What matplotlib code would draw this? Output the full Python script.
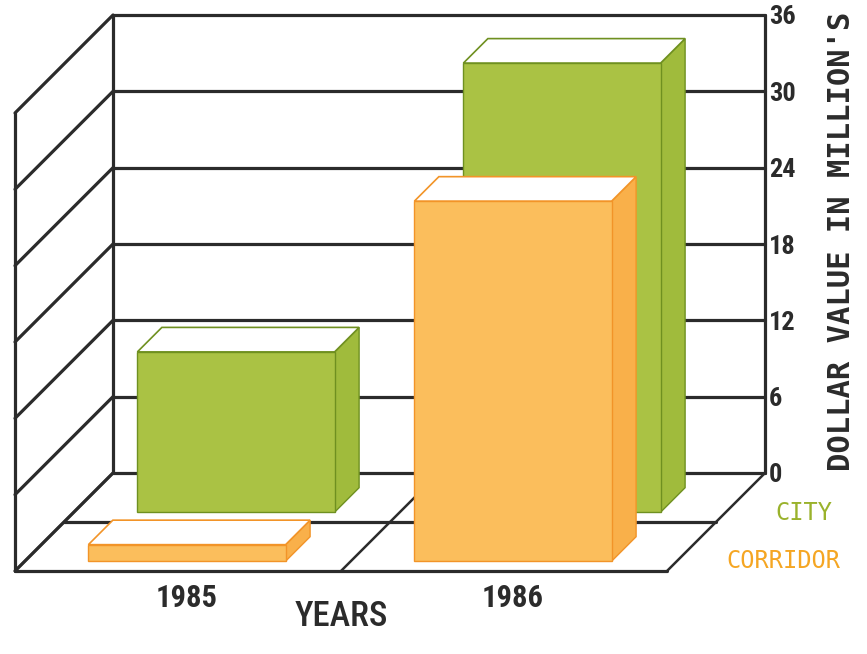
import matplotlib
matplotlib.use('Agg')
import matplotlib.pyplot as plt
from matplotlib.patches import Polygon
from matplotlib import font_manager
from matplotlib.transforms import offset_copy

# ---------------- data ----------------
years = ['1985', '1986']
series = ['CITY', 'CORRIDOR']
city_values = [12.6, 35.3]
corridor_values = [1.3, 28.3]
y_ticks = [0, 6, 12, 18, 24, 30, 36]
y_label = "DOLLAR VALUE IN MILLION'S"
x_label = 'YEARS'

# ---------------- fonts ----------------
avail = {f.name for f in font_manager.fontManager.ttflist}
COND = next((n for n in ['Roboto Condensed', 'Liberation Sans Narrow',
                         'Open Sans Condensed'] if n in avail), None)
if COND is None:
    cond_kw = dict(family='DejaVu Sans', fontstretch='condensed')
else:
    cond_kw = dict(family=COND)
MONO = 'DejaVu Sans Mono'

# ---------------- layout ----------------
FIG_W, FIG_H, DPI = 867, 654, 100
BX0, BX1, BY0, BY1 = 113, 765, 473, 15      # back wall box (pixels)
DEPTH_PX = 98.0

LINE = '#2b2b2b'
GREEN_FRONT, GREEN_SIDE, GREEN_EDGE = '#aac244', '#a0bb3c', '#6f9020'
ORANGE_FRONT, ORANGE_SIDE, ORANGE_EDGE = '#fbbe5c', '#f9b04a', '#f29428'

fig = plt.figure(figsize=(FIG_W / DPI, FIG_H / DPI), dpi=DPI)
fig.patch.set_facecolor('white')
ax = fig.add_axes([BX0 / FIG_W, (FIG_H - BY0) / FIG_H,
                   (BX1 - BX0) / FIG_W, (BY0 - BY1) / FIG_H])
ncat = len(years)
vmax = y_ticks[-1]
ax.set_xlim(0, ncat)
ax.set_ylim(0, vmax)
for s in ax.spines.values():
    s.set_visible(False)
ax.set_facecolor('none')

kx = DEPTH_PX / ((BX1 - BX0) / ncat)     # category units per depth unit
ky = DEPTH_PX / ((BY0 - BY1) / vmax)     # value units per depth unit


def P(x, d, v):
    """oblique projection: x category coord, d depth (0 back, 1 front), v value"""
    return (x - d * kx, v - d * ky)


def seg(a, b, lw=2.3, z=1):
    ax.plot([a[0], b[0]], [a[1], b[1]], color=LINE, lw=lw, clip_on=False,
            solid_capstyle='round', zorder=z)


# back wall
for t in y_ticks:
    seg(P(0, 0, t), P(ncat, 0, t))
seg(P(0, 0, 0), P(0, 0, vmax))
seg(P(ncat, 0, 0), P(ncat, 0, vmax))
# left wall
seg(P(0, 1, 0), P(0, 1, vmax))
for t in y_ticks:
    seg(P(0, 0, t), P(0, 1, t))
# floor
for d in [0.5, 1.0]:
    seg(P(0, d, 0), P(ncat, d, 0))
for i in range(ncat + 1):
    seg(P(i, 0, 0), P(i, 1, 0), lw=1.8)

# bars
rows = [(city_values, GREEN_FRONT, GREEN_SIDE, GREEN_EDGE),
        (corridor_values, ORANGE_FRONT, ORANGE_SIDE, ORANGE_EDGE)]
for r, (vals, fc, sc, ec) in enumerate(rows):
    d0 = r * 0.5 + 0.15
    d1 = r * 0.5 + 0.40
    for i, v in enumerate(vals):
        x0, x1 = i + 0.195, i + 0.80
        z = 3 + r
        front = [P(x0, d1, 0), P(x1, d1, 0), P(x1, d1, v), P(x0, d1, v)]
        side = [P(x1, d1, 0), P(x1, d0, 0), P(x1, d0, v), P(x1, d1, v)]
        top = [P(x0, d1, v), P(x1, d1, v), P(x1, d0, v), P(x0, d0, v)]
        ax.add_patch(Polygon(side, closed=True, fc=sc, ec=ec, lw=1.0,
                             clip_on=False, zorder=z))
        ax.add_patch(Polygon(top, closed=True, fc='white', ec=ec, lw=1.2,
                             clip_on=False, zorder=z))
        ax.add_patch(Polygon(front, closed=True, fc=fc, ec=ec, lw=1.0,
                             clip_on=False, zorder=z))

# value axis (right)
ax.set_xticks([])
ax.yaxis.tick_right()
ax.set_yticks(y_ticks)
ax.set_yticklabels([str(t) for t in y_ticks])
ax.tick_params(axis='y', length=0, pad=3, labelsize=19, labelcolor='#2b2b2b')
for lab in ax.get_yticklabels():
    lab.set(fontweight='bold', **cond_kw)
ax.set_ylabel(y_label, fontsize=22, family=MONO, fontweight='bold', color='#2b2b2b')
ax.yaxis.set_label_position('right')
ax.yaxis.set_label_coords((841 - BX0) / (BX1 - BX0), 0.505)
ax.yaxis.label.set_horizontalalignment('center')
ax.yaxis.label.set_verticalalignment('center')

# category labels
for i, yr in enumerate(years):
    x, y = P(i + 0.5, 1, 0)
    tr = offset_copy(ax.transData, fig=fig, x=9, y=-27, units='dots')
    ax.text(x, y, yr, transform=tr, ha='center', va='center', fontsize=22,
            fontweight='bold', color='#2b2b2b', clip_on=False, **cond_kw)
x, y = P(ncat / 2, 1, 0)
tr = offset_copy(ax.transData, fig=fig, x=0, y=-45, units='dots')
ax.text(x, y, x_label, transform=tr, ha='center', va='center', fontsize=25,
        fontweight='medium', color='#2b2b2b', clip_on=False, **cond_kw)

# series labels at right edge of floor
for r, (name, col) in enumerate(zip(series, ['#9ab22c', '#f5a623'])):
    x, y = P(ncat, r * 0.5 + 0.25, 0)
    tr = offset_copy(ax.transData, fig=fig, x=35, y=-15, units='dots')
    ax.text(x, y, name, transform=tr, ha='left', va='center', fontsize=17,
            family=MONO, color=col, clip_on=False)

fig.savefig('out.png', dpi=DPI, facecolor='white')
